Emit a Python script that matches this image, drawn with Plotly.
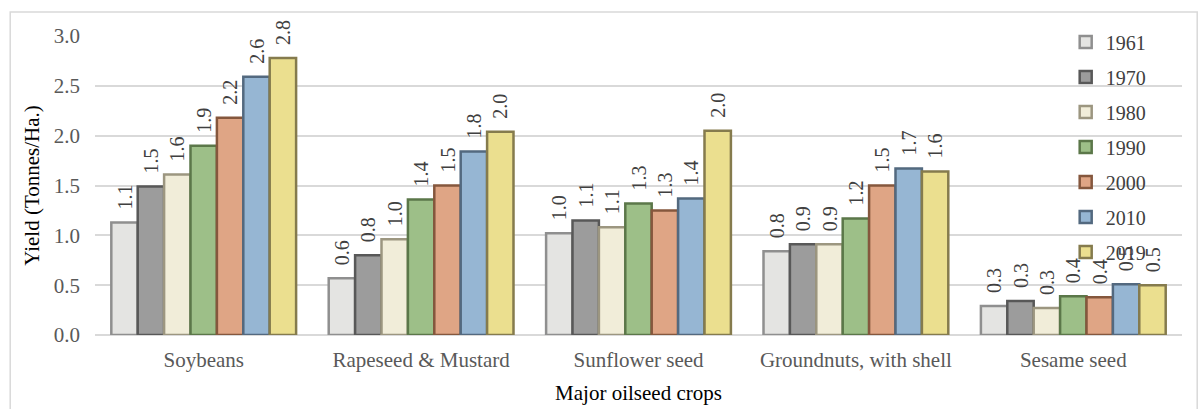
import plotly.graph_objects as go

# Average yield of major oilseed crops, selected years
crops = ["Soybeans", "Rapeseed & Mustard", "Sunflower seed", "Groundnuts, with shell", "Sesame seed"]
years = ["1961", "1970", "1980", "1990", "2000", "2010", "2019"]

yield_1961 = [1.13, 0.57, 1.02, 0.84, 0.29]
yield_1970 = [1.49, 0.80, 1.15, 0.91, 0.34]
yield_1980 = [1.61, 0.96, 1.08, 0.91, 0.27]
yield_1990 = [1.90, 1.36, 1.32, 1.17, 0.39]
yield_2000 = [2.18, 1.50, 1.25, 1.50, 0.38]
yield_2010 = [2.59, 1.84, 1.37, 1.67, 0.51]
yield_2019 = [2.78, 2.04, 2.05, 1.64, 0.50]

series = [yield_1961, yield_1970, yield_1980, yield_1990, yield_2000, yield_2010, yield_2019]

fills = ["#e4e4e2", "#9c9c9c", "#f1edd9", "#9dbf88", "#dfa585", "#96b6d3", "#ebdf8f"]
edges = ["#8f8f8f", "#585858", "#9c9680", "#5b7749", "#85573d", "#53697f", "#857b4d"]

SERIF = "Liberation Serif"

fig = go.Figure()
for i, (yr, vals) in enumerate(zip(years, series)):
    fig.add_trace(go.Bar(
        name=yr,
        x=crops,
        y=vals,
        legendgroup=yr,
        marker=dict(color=fills[i], line=dict(color=edges[i], width=2.5)),
        texttemplate="&nbsp;&nbsp;%{y:.1f}",
        textposition="outside",
        textangle=-90,
        constraintext="none",
        cliponaxis=False,
        textfont=dict(family=SERIF, size=20, color="#404040"),
    ))

fig.update_layout(
    width=1200,
    height=409,
    margin=dict(l=95, r=18, t=36, b=74),
    paper_bgcolor="white",
    plot_bgcolor="white",
    barmode="group",
    bargap=0.15,
    bargroupgap=0,
    font=dict(family=SERIF, color="#595959", size=21),
    legend=dict(
        x=0.893, y=1.045, xanchor="left", yanchor="top",
        bgcolor="rgba(0,0,0,0)",
        font=dict(family=SERIF, size=20, color="#404040"),
        tracegroupgap=6,
        itemwidth=30,
        maxheight=400,
    ),
    xaxis=dict(
        showgrid=False,
        showline=False,
        ticks="",
        automargin=False,
        ticklabelstandoff=10,
        tickfont=dict(family=SERIF, size=21, color="#595959"),
        title=dict(text="Major oilseed crops", font=dict(family=SERIF, size=21, color="#000000"), standoff=14),
    ),
    yaxis=dict(
        range=[0, 3.0],
        dtick=0.5,
        tickformat=".1f",
        showgrid=True,
        gridcolor="#d9d9d9",
        gridwidth=1.5,
        zeroline=True,
        zerolinecolor="#d9d9d9",
        zerolinewidth=1.5,
        showline=False,
        ticks="",
        automargin=False,
        ticklabelstandoff=14,
        tickfont=dict(family=SERIF, size=21, color="#595959"),
        title=dict(text="Yield (Tonnes/Ha.)", font=dict(family=SERIF, size=21, color="#000000"), standoff=8),
    ),
    shapes=[dict(
        type="rect", xref="paper", yref="paper",
        x0=-0.078, x1=1.014, y0=-0.3, y1=1.08,
        line=dict(color="#d9d9d9", width=1.5),
        fillcolor="rgba(0,0,0,0)",
        layer="below",
    )],
)

fig.write_html("out.html")
